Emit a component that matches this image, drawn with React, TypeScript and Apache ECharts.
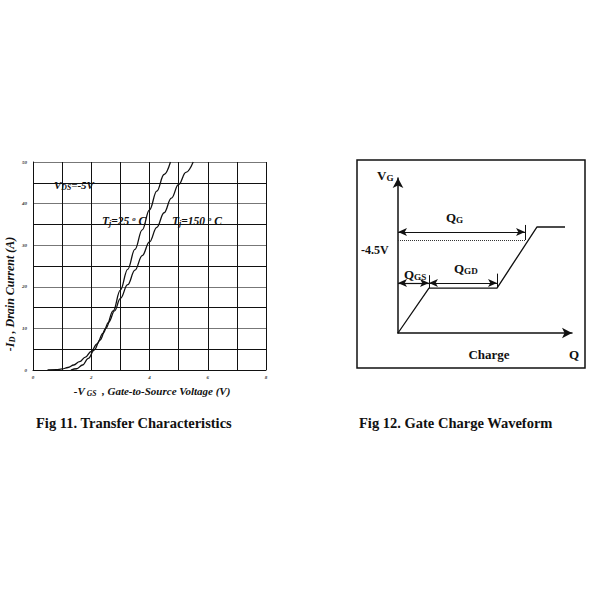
import React, { useEffect, useRef } from "react";
import * as echarts from "echarts";

// Fig 11 – transfer characteristics (-VGS [V], -ID [A])
const vgsTicks = [0, 1, 2, 3, 4, 5, 6, 7, 8];
const idTicks = [0, 5, 10, 15, 20, 25, 30, 35, 40, 45, 50];
const curve25C: [number, number][] = [
  [1.3, 0], [1.5, 0.3], [1.7, 1.2], [1.9, 2.8], [2.1, 4.8], [2.3, 7.2], [2.5, 10],
  [2.75, 14.2], [3.0, 19.2], [3.25, 24.2], [3.5, 29], [3.75, 33.7], [4.0, 38.5],
  [4.25, 43], [4.5, 47], [4.72, 50],
];
const curve150C: [number, number][] = [
  [0.5, 0], [0.8, 0.1], [1.0, 0.25], [1.2, 0.6], [1.4, 1.2], [1.6, 2.0], [1.8, 3.1],
  [2.0, 4.5], [2.2, 6.3], [2.4, 8.8], [2.6, 11.5], [2.8, 14.2], [3.0, 17.2],
  [3.25, 20.5], [3.5, 24], [3.75, 27.5], [4.0, 30.8], [4.25, 34.3], [4.5, 37.8],
  [4.75, 41.3], [5.0, 44.6], [5.25, 47.5], [5.5, 50],
];

// Fig 12 – gate charge waveform (schematic units)
const chargeQ = [0, 1.78, 5.69, 7.99, 9.6];
const gateV = [0, 2.9, 2.9, 6.84, 6.84];
const qgsEnd = 1.78;
const qgdEnd = 5.69;
const qgEnd = 7.3;
const vgLevel = 6.0; // -4.5V dotted level
const qgArrowV = 6.52;
const qgsArrowV = 3.23;

const SERIF = "'Liberation Serif', 'Times New Roman', serif";

export default function App() {
  const ref = useRef<HTMLDivElement>(null);
  useEffect(() => {
    if (!ref.current) return;
    const chart = echarts.init(ref.current, undefined, { renderer: "svg" });
    const black = "#111";
    const tickLabel = {
      fontSize: 5,
      fontStyle: "italic" as const,
      fontWeight: "bold" as const,
      fontFamily: SERIF,
      color: "#333",
    };
    const subRich = (size: number) => ({
      b: { fontSize: size, fontWeight: "bold", fontFamily: SERIF, fill: black, fontStyle: "normal" },
      s: { fontSize: size * 0.7, fontWeight: "bold", fontFamily: SERIF, fill: black, padding: [size * 0.45, 0, 0, 0] },
    });
    const italRich = (size: number) => ({
      b: { fontSize: size, fontWeight: "bold", fontStyle: "italic", fontFamily: SERIF, fill: black },
      s: { fontSize: size * 0.7, fontWeight: "bold", fontStyle: "italic", fontFamily: SERIF, fill: black, padding: [size * 0.45, 0, 0, 0] },
      u: { fontSize: size * 0.6, fontWeight: "bold", fontStyle: "italic", fontFamily: SERIF, fill: black, padding: [0, 0, size * 0.5, 0] },
    });
    const plainText = (x: number, y: number, text: string, size: number, align = "left") => ({
      type: "text",
      x,
      y,
      style: {
        text,
        fontSize: size,
        fontWeight: "bold",
        fontFamily: SERIF,
        fill: black,
        textAlign: align,
        textVerticalAlign: "middle",
      },
    });
    const richText = (x: number, y: number, text: string, rich: any, align = "left", rotation = 0) => ({
      type: "text",
      x,
      y,
      rotation,
      style: { text, rich, textAlign: align, textVerticalAlign: "middle", fill: black },
    });
    const markLineStyle = { color: black, width: 1.2, type: "solid" };

    chart.setOption({
      animation: false,
      grid: [
        { left: 33, top: 162, width: 233, height: 208 },
        { left: 398, top: 178, width: 174, height: 155 },
      ],
      xAxis: [
        {
          gridIndex: 0,
          type: "value",
          min: vgsTicks[0],
          max: vgsTicks[vgsTicks.length - 1],
          interval: 1,
          axisLine: { show: true, lineStyle: { color: black, width: 1 } },
          axisTick: { show: false },
          axisLabel: {
            ...tickLabel,
            margin: 5,
            formatter: (v: number) => (v % 2 === 0 ? String(v) : ""),
          },
          splitLine: { show: true, lineStyle: { color: black, width: 1 } },
        },
        {
          gridIndex: 1,
          type: "value",
          min: 0,
          max: 10,
          axisLine: {
            show: true,
            symbol: ["none", "arrow"],
            symbolSize: [8, 10],
            lineStyle: { color: black, width: 1.5 },
          },
          axisTick: { show: false },
          axisLabel: { show: false },
          splitLine: { show: false },
        },
      ],
      yAxis: [
        {
          gridIndex: 0,
          type: "value",
          min: idTicks[0],
          max: idTicks[idTicks.length - 1],
          interval: 5,
          axisLine: { show: true, lineStyle: { color: black, width: 1 } },
          axisTick: { show: false },
          axisLabel: {
            ...tickLabel,
            margin: 6,
            formatter: (v: number) => (v % 10 === 0 ? String(v) : ""),
          },
          splitLine: { show: true, lineStyle: { color: ["#777", black], width: 1 } },
        },
        {
          gridIndex: 1,
          type: "value",
          min: 0,
          max: 10,
          axisLine: {
            show: true,
            symbol: ["none", "arrow"],
            symbolSize: [8, 10],
            lineStyle: { color: black, width: 1.5 },
          },
          axisTick: { show: false },
          axisLabel: { show: false },
          splitLine: { show: false },
        },
      ],
      series: [
        {
          name: "Tj=25°C",
          type: "line",
          xAxisIndex: 0,
          yAxisIndex: 0,
          data: curve25C,
          smooth: 0.4,
          smoothMonotone: "x",
          showSymbol: false,
          lineStyle: { color: black, width: 1.3 },
        },
        {
          name: "Tj=150°C",
          type: "line",
          xAxisIndex: 0,
          yAxisIndex: 0,
          data: curve150C,
          smooth: 0.4,
          smoothMonotone: "x",
          showSymbol: false,
          lineStyle: { color: black, width: 1.3 },
        },
        {
          name: "Gate charge",
          type: "line",
          xAxisIndex: 1,
          yAxisIndex: 1,
          data: chargeQ.map((q, i) => [q, gateV[i]]),
          showSymbol: false,
          lineStyle: { color: black, width: 1.3 },
          markLine: {
            silent: true,
            animation: false,
            label: { show: false },
            symbol: ["arrow", "arrow"],
            symbolSize: [6, 9],
            lineStyle: markLineStyle,
            data: [
              [{ coord: [0, qgArrowV] }, { coord: [qgEnd, qgArrowV] }],
              [{ coord: [0, qgsArrowV] }, { coord: [qgsEnd, qgsArrowV] }],
              [{ coord: [qgsEnd, qgsArrowV] }, { coord: [qgdEnd, qgsArrowV] }],
              [
                { coord: [0, vgLevel], symbol: "none", lineStyle: { type: "dotted", width: 1, color: "#333" } },
                { coord: [qgEnd, vgLevel], symbol: "none" },
              ],
              [
                { coord: [qgEnd, vgLevel], symbol: "none", lineStyle: { width: 1 } },
                { coord: [qgEnd, qgArrowV + 0.45], symbol: "none" },
              ],
              [
                { coord: [qgsEnd, gateV[1]], symbol: "none", lineStyle: { width: 1 } },
                { coord: [qgsEnd, qgsArrowV + 0.5], symbol: "none" },
              ],
              [
                { coord: [qgdEnd, gateV[2]], symbol: "none", lineStyle: { width: 1 } },
                { coord: [qgdEnd, qgsArrowV + 0.6], symbol: "none" },
              ],
            ],
          },
        },
      ],
      graphic: [
        // Fig 11 annotations
        richText(54, 185, "{b|V}{s|DS}{b|=-5V}", italRich(11)),
        richText(102, 221, "{b|T}{s|j}{b|=25 }{u|o}{b| C}", italRich(11.5)),
        richText(172, 221, "{b|T}{s|j}{b|=150 }{u|o}{b| C}", italRich(11.5)),
        richText(10, 294, "{b|-I}{s|D}{b| , Drain Current (A)}", italRich(12), "center", Math.PI / 2),
        richText(152, 391, "{b|-V}{s| GS}{b|  , Gate-to-Source Voltage (V)}", italRich(11), "center"),
        // Fig 12 frame and labels
        {
          type: "rect",
          shape: { x: 357, y: 160, width: 228, height: 208 },
          style: { fill: "none", stroke: black, lineWidth: 1.5 },
        },
        richText(377, 175, "{b|V}{s|G}", subRich(13)),
        plainText(361, 250, "-4.5V", 12),
        richText(446, 217, "{b|Q}{s|G}", subRich(13)),
        richText(404, 274, "{b|Q}{s|GS}", subRich(13)),
        richText(454, 268, "{b|Q}{s|GD}", subRich(13)),
        plainText(489, 354, "Charge", 13, "center"),
        plainText(574, 354, "Q", 13, "center"),
        // captions
        plainText(36, 423, "Fig 11. Transfer Characteristics", 14.5),
        plainText(359, 423, "Fig 12. Gate Charge Waveform", 14.5),
      ],
    });
    return () => chart.dispose();
  }, []);
  return (
    <div
      ref={ref}
      style={{ position: "absolute", left: 0, top: 0, width: 600, height: 600, background: "#fff" }}
    />
  );
}
